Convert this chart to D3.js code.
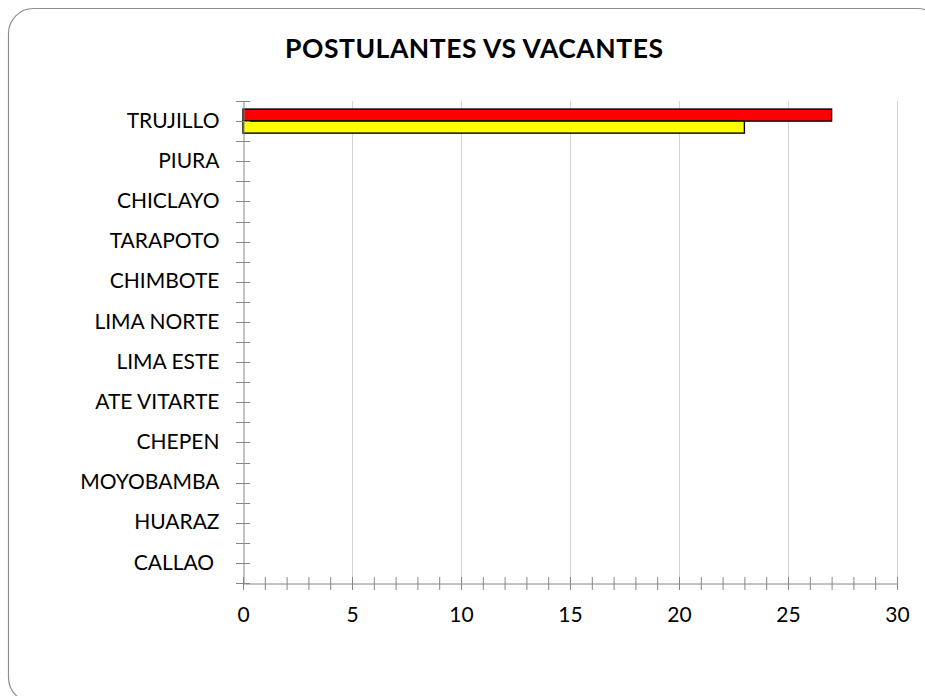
<!DOCTYPE html>
<html>
<head>
<meta charset="utf-8">
<script src="https://cdn.jsdelivr.net/npm/d3@7"></script>
<style>
  body { margin: 0; background: #fff; }
  text { font-family: Lato, "Open Sans", sans-serif; fill: #000; }
</style>
</head>
<body>
<div id="chart"></div>
<script>
var categories = ['TRUJILLO', 'PIURA', 'CHICLAYO', 'TARAPOTO', 'CHIMBOTE', 'LIMA NORTE',
    'LIMA ESTE', 'ATE VITARTE', 'CHEPEN', 'MOYOBAMBA', 'HUARAZ', 'CALLAO '];
var postulantes = [27, 0, 0, 0, 0, 0, 0, 0, 0, 0, 0, 0];
var vacantes = [23, 0, 0, 0, 0, 0, 0, 0, 0, 0, 0, 0];
var xTicks = [0, 5, 10, 15, 20, 25, 30];

var width = 925;
var height = 696;

var series = [
    {key: 'postulantes', values: postulantes, color: '#FF0000'},
    {key: 'vacantes', values: vacantes, color: '#FFFF00'}
];

var svg = d3.select('#chart')
    .append('svg')
    .attr('width', width)
    .attr('height', height);

// frame
svg.append('rect')
    .attr('x', 8.5).attr('y', 8.5)
    .attr('width', 934).attr('height', 694)
    .attr('rx', 25).attr('ry', 25)
    .attr('fill', '#fff')
    .attr('stroke', '#8c8c8c')
    .attr('stroke-width', 1.2);

svg.append('text')
    .attr('x', 474)
    .attr('y', 58)
    .attr('text-anchor', 'middle')
    .attr('textLength', 378)
    .attr('lengthAdjust', 'spacing')
    .style('font-size', '26.5px')
    .style('font-weight', 'bold')
    .text('POSTULANTES VS VACANTES');

var x = d3.scaleLinear().domain([0, 30]).range([243, 897]);
var y = d3.scaleBand().domain(categories).range([101, 583]);
var ySub = d3.scaleBand()
    .domain(series.map(function (s) { return s.key; }))
    .range([0, y.bandwidth()])
    .paddingOuter(0.67);

// gridlines
svg.append('g')
    .selectAll('line')
    .data(xTicks.slice(1))
    .enter()
    .append('line')
    .attr('x1', function (d) { return x(d) + 0.5; })
    .attr('x2', function (d) { return x(d) + 0.5; })
    .attr('y1', 101)
    .attr('y2', 583)
    .attr('stroke', '#d4d4d4')
    .attr('stroke-width', 1);

// bars
series.forEach(function (s) {
    var rows = categories.map(function (c, i) { return {cat: c, v: s.values[i]}; })
        .filter(function (d) { return d.v > 0; });
    svg.append('g')
        .selectAll('rect')
        .data(rows)
        .enter()
        .append('rect')
        .attr('x', x(0))
        .attr('y', function (d) { return y(d.cat) + ySub(s.key); })
        .attr('width', function (d) { return x(d.v) - x(0); })
        .attr('height', ySub.bandwidth())
        .attr('fill', s.color)
        .attr('stroke', '#000')
        .attr('stroke-width', 1.4);
});

// x axis
var xAxis = svg.append('g')
    .attr('transform', 'translate(0,583.5)')
    .call(d3.axisBottom(x).tickValues(xTicks).tickSize(0).tickPadding(24));
xAxis.select('.domain').attr('stroke', '#868686');
xAxis.selectAll('text').style('font-size', '21px');

svg.append('g')
    .selectAll('line')
    .data(d3.range(0, 31))
    .enter()
    .append('line')
    .attr('x1', function (d) { return x(d) + 0.5; })
    .attr('x2', function (d) { return x(d) + 0.5; })
    .attr('y1', 577)
    .attr('y2', 590)
    .attr('stroke', '#868686');

// y axis
var yAxis = svg.append('g')
    .attr('transform', 'translate(243.5,0)')
    .call(d3.axisLeft(y).tickSize(0).tickPadding(24));
yAxis.select('.domain').attr('stroke', '#868686');
yAxis.selectAll('text').style('font-size', '21px').style('white-space', 'pre');

var yTickPos = d3.range(0, categories.length * 2 + 1).map(function (k) {
    return 101 + k * y.step() / 2;
});
svg.append('g')
    .selectAll('line')
    .data(yTickPos)
    .enter()
    .append('line')
    .attr('x1', 236)
    .attr('x2', 250)
    .attr('y1', function (d) { return Math.round(d) + 0.5; })
    .attr('y2', function (d) { return Math.round(d) + 0.5; })
    .attr('stroke', '#868686');
</script>
</body>
</html>
